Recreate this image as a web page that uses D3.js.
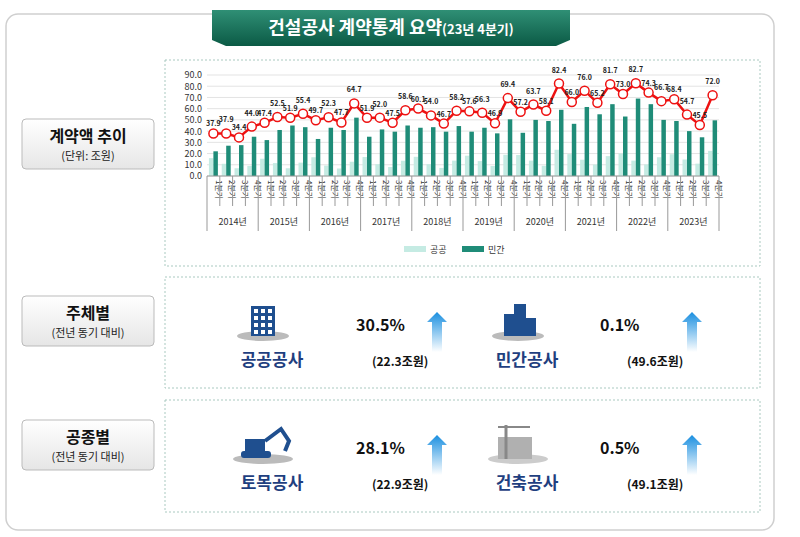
<!DOCTYPE html>
<html><head><meta charset="utf-8">
<script src="https://cdn.jsdelivr.net/npm/d3@7"></script>
<style>body{margin:0;background:#fff}text{font-family:"Noto Sans CJK KR","Noto Sans",sans-serif}</style>
</head><body><svg id="c" width="800" height="537"></svg>
<script>
const years = ["2014년","2015년","2016년","2017년","2018년","2019년","2020년","2021년","2022년","2023년"];
const quarters = ["1분기","2분기","3분기","4분기"];
const total = [37.9,37.9,34.4,44.0, 47.4,52.5,51.9,55.4, 49.7,52.3,47.7,64.7, 51.9,52.0,47.5,58.6,
  60.1,54.0,46.7,58.2, 57.6,56.3,46.9,69.4, 57.2,63.7,58.1,82.4, 66.0,76.0,65.2,81.7,
  73.0,82.7,74.3,66.7, 68.4,54.7,45.5,72.0];
const privateVals = [22,27,27.5,35, 32,41,45,43.5, 33,43,41,52, 35,41.5,39.5,45,
  43,43.5,39.5,44.5, 39.5,43,38,50.5, 38.5,50,49,59, 46.5,61.5,55,64,
  53,69,64,50, 49,40,34.5,49.6];
const publicVals = total.map((t,i)=>+(t-privateVals[i]).toFixed(1));
const yTicks = [0,10,20,30,40,50,60,70,80,90];
const summary = [
  {row:0, name:"공공공사", pct:"30.5%", amt:"(22.3조원)", icon:"bld"},
  {row:0, name:"민간공사", pct:"0.1%", amt:"(49.6조원)", icon:"bld2"},
  {row:1, name:"토목공사", pct:"28.1%", amt:"(22.9조원)", icon:"exc"},
  {row:1, name:"건축공사", pct:"0.5%", amt:"(49.1조원)", icon:"crane"}
];
const sideLabels = [
  {y:145, t:"계약액 추이", s:"(단위: 조원)"},
  {y:322, t:"주체별", s:"(전년 동기 대비)"},
  {y:446, t:"공종별", s:"(전년 동기 대비)"}
];

const svg = d3.select("#c");
const defs = svg.append("defs");
const g1 = defs.append("linearGradient").attr("id","ban").attr("x1",0).attr("y1",0).attr("x2",0).attr("y2",1);
g1.append("stop").attr("offset","0").attr("stop-color","#2f8f75");
g1.append("stop").attr("offset","1").attr("stop-color","#0b5a45");
const g2 = defs.append("linearGradient").attr("id","arr").attr("x1",0).attr("y1",1).attr("x2",0).attr("y2",0);
g2.append("stop").attr("offset","0").attr("stop-color","#ffffff");
g2.append("stop").attr("offset","1").attr("stop-color","#1a8fe0");
const g3 = defs.append("linearGradient").attr("id","lab").attr("x1",0).attr("y1",0).attr("x2",0).attr("y2",1);
g3.append("stop").attr("offset","0").attr("stop-color","#ffffff");
g3.append("stop").attr("offset","1").attr("stop-color","#e6e6e6");

// outer frame
svg.append("rect").attr("x",6).attr("y",14).attr("width",768).attr("height",516).attr("rx",12)
  .attr("fill","#fff").attr("stroke","#cfcfcf").attr("stroke-width",1.5);
// banner
svg.append("path").attr("d","M212,10 H570 V40 L556,46 H226 L212,40 Z").attr("fill","url(#ban)");
svg.append("text").attr("x",391).attr("y",34).attr("text-anchor","middle").attr("fill","#fff")
  .attr("font-size",18).attr("font-weight","bold")
  .call(t=>{t.append("tspan").text("건설공사 계약통계 요약");t.append("tspan").attr("font-size",13).text("(23년 4분기)");});

// panels
[[165,60,595,206],[165,277,595,111],[165,400,595,112]].forEach(p=>{
  svg.append("rect").attr("x",p[0]).attr("y",p[1]).attr("width",p[2]).attr("height",p[3])
    .attr("fill","#fff").attr("stroke","#a9c9c0").attr("stroke-dasharray","2,2");
});
// side labels
sideLabels.forEach(d=>{
  svg.append("rect").attr("x",22).attr("y",d.y-26).attr("width",132).attr("height",50).attr("rx",4)
    .attr("fill","url(#lab)").attr("stroke","#bbb");
  svg.append("text").attr("x",88).attr("y",d.y-3).attr("text-anchor","middle").attr("font-size",16)
    .attr("font-weight","bold").attr("fill","#111").text(d.t);
  svg.append("text").attr("x",88).attr("y",d.y+15).attr("text-anchor","middle").attr("font-size",11)
    .attr("fill","#222").text(d.s);
});

// chart
const cats = d3.range(40);
const x = d3.scaleBand().domain(cats).range([207,719]).paddingInner(0.3).paddingOuter(0.15);
const y = d3.scaleLinear().domain([0,90]).range([176,75]);
const step = x.step();
svg.append("g").selectAll("line").data(yTicks).join("line")
  .attr("x1",207).attr("x2",719).attr("y1",d=>y(d)).attr("y2",d=>y(d)).attr("stroke","#e3e3e3");
svg.append("g").attr("transform","translate(207,0)")
  .call(d3.axisLeft(y).tickValues(yTicks).tickFormat(d3.format(".1f")).tickSize(0))
  .call(a=>a.select(".domain").remove())
  .selectAll("text").attr("font-size",9).attr("fill","#333").attr("dx",-2);
const bw = x.bandwidth()/2;
svg.append("g").selectAll("rect").data(publicVals).join("rect")
  .attr("x",(d,i)=>x(i)).attr("width",bw).attr("y",d=>y(d)).attr("height",d=>y(0)-y(d)).attr("fill","#c5ebe3");
svg.append("g").selectAll("rect").data(privateVals).join("rect")
  .attr("x",(d,i)=>x(i)+bw).attr("width",bw).attr("y",d=>y(d)).attr("height",d=>y(0)-y(d)).attr("fill","#1f8c78");
const cx = i=>x(i)+x.bandwidth()/2;
svg.append("path").datum(total).attr("fill","none").attr("stroke","#ee1111").attr("stroke-width",2.5)
  .attr("d",d3.line().x((d,i)=>cx(i)).y(d=>y(d)));
svg.append("g").selectAll("circle").data(total).join("circle")
  .attr("cx",(d,i)=>cx(i)).attr("cy",d=>y(d)).attr("r",4.5).attr("fill","#fff").attr("stroke","#ee1111").attr("stroke-width",1.5);
svg.append("g").selectAll("text").data(total).join("text")
  .attr("x",(d,i)=>cx(i)).attr("y",(d,i)=>y(d)-(i%2?11:7)).attr("text-anchor","middle").attr("font-size",7)
  .attr("font-weight","bold").attr("fill","#222").text(d=>d.toFixed(1));
// category axis
svg.append("line").attr("x1",207).attr("x2",719).attr("y1",176).attr("y2",176).attr("stroke","#999");
const xl = svg.append("g");
cats.forEach(i=>{
  const lx = 207+step*i;
  xl.append("line").attr("x1",lx).attr("x2",lx).attr("y1",176).attr("y2",i%4===0?231:206).attr("stroke","#999");
  xl.append("text").attr("transform",`translate(${lx+step/2+3},180) rotate(90)`).attr("font-size",8)
    .attr("fill","#333").text(quarters[i%4]);
});
xl.append("line").attr("x1",719).attr("x2",719).attr("y1",176).attr("y2",231).attr("stroke","#999");
years.forEach((yr,j)=>{
  xl.append("text").attr("x",207+step*(4*j+2)).attr("y",225).attr("text-anchor","middle")
    .attr("font-size",9).attr("fill","#333").text(yr);
});
// legend
const lg = svg.append("g").attr("transform","translate(404,246)");
lg.append("rect").attr("width",22).attr("height",6).attr("fill","#c5ebe3");
lg.append("text").attr("x",26).attr("y",7).attr("font-size",9).attr("fill","#333").text("공공");
lg.append("rect").attr("x",58).attr("width",22).attr("height",6).attr("fill","#1f8c78");
lg.append("text").attr("x",84).attr("y",7).attr("font-size",9).attr("fill","#333").text("민간");

// summary rows
function icon(gr, type){
  const c="#1f4f8f";
  if(type==="bld"){
    gr.append("ellipse").attr("cx",0).attr("cy",14).attr("rx",26).attr("ry",5).attr("fill","#bbb");
    gr.append("rect").attr("x",-12).attr("y",-16).attr("width",24).attr("height",30).attr("fill",c);
    for(let r=0;r<4;r++)for(let k=0;k<3;k++)gr.append("rect").attr("x",-9+k*7).attr("y",-13+r*7).attr("width",4).attr("height",4).attr("fill","#fff");
  } else if(type==="bld2"){
    gr.append("ellipse").attr("cx",0).attr("cy",14).attr("rx",26).attr("ry",5).attr("fill","#bbb");
    gr.append("rect").attr("x",-14).attr("y",-8).attr("width",12).attr("height",22).attr("fill",c);
    gr.append("rect").attr("x",-4).attr("y",-18).attr("width",12).attr("height",32).attr("fill",c);
    gr.append("rect").attr("x",8).attr("y",-4).attr("width",10).attr("height",18).attr("fill",c);
  } else if(type==="exc"){
    gr.append("ellipse").attr("cx",0).attr("cy",14).attr("rx",30).attr("ry",5).attr("fill","#bbb");
    gr.append("rect").attr("x",-22).attr("y",6).attr("width",30).attr("height",7).attr("rx",3).attr("fill",c);
    gr.append("rect").attr("x",-18).attr("y",-6).attr("width",20).attr("height",12).attr("fill",c);
    gr.append("path").attr("d","M2,-4 L18,-16 L26,-4 L22,6").attr("fill","none").attr("stroke",c).attr("stroke-width",4);
  } else {
    gr.append("ellipse").attr("cx",0).attr("cy",14).attr("rx",30).attr("ry",5).attr("fill","#ccc");
    gr.append("rect").attr("x",-20).attr("y",-8).attr("width",34).attr("height",22).attr("fill","#b0b0b0");
    gr.append("line").attr("x1",-12).attr("x2",-12).attr("y1",-20).attr("y2",14).attr("stroke","#888").attr("stroke-width",3);
    gr.append("line").attr("x1",-20).attr("x2",12).attr("y1",-18).attr("y2",-18).attr("stroke","#888").attr("stroke-width",2);
  }
}
summary.forEach((d,i)=>{
  const oy = d.row*123, ox = (i%2)*255;
  icon(svg.append("g").attr("transform",`translate(${263+ox},${322+oy})`), d.icon);
  svg.append("text").attr("x",272+ox).attr("y",366+oy).attr("text-anchor","middle").attr("font-size",17)
    .attr("font-weight","bold").attr("fill","#1f3f7f").text(d.name);
  svg.append("text").attr("x",i%2?600:356).attr("y",331+oy).attr("font-size",16)
    .attr("font-weight","bold").attr("fill","#111").text(d.pct);
  svg.append("text").attr("x",372+ox).attr("y",366+oy).attr("font-size",12)
    .attr("font-weight","bold").attr("fill","#111").text(d.amt);
  svg.append("path").attr("transform",`translate(${437+ox},${312+oy})`)
    .attr("d","M0,0 L10,10 H5 V40 H-5 V10 H-10 Z").attr("fill","url(#arr)");
});
</script></body></html>
